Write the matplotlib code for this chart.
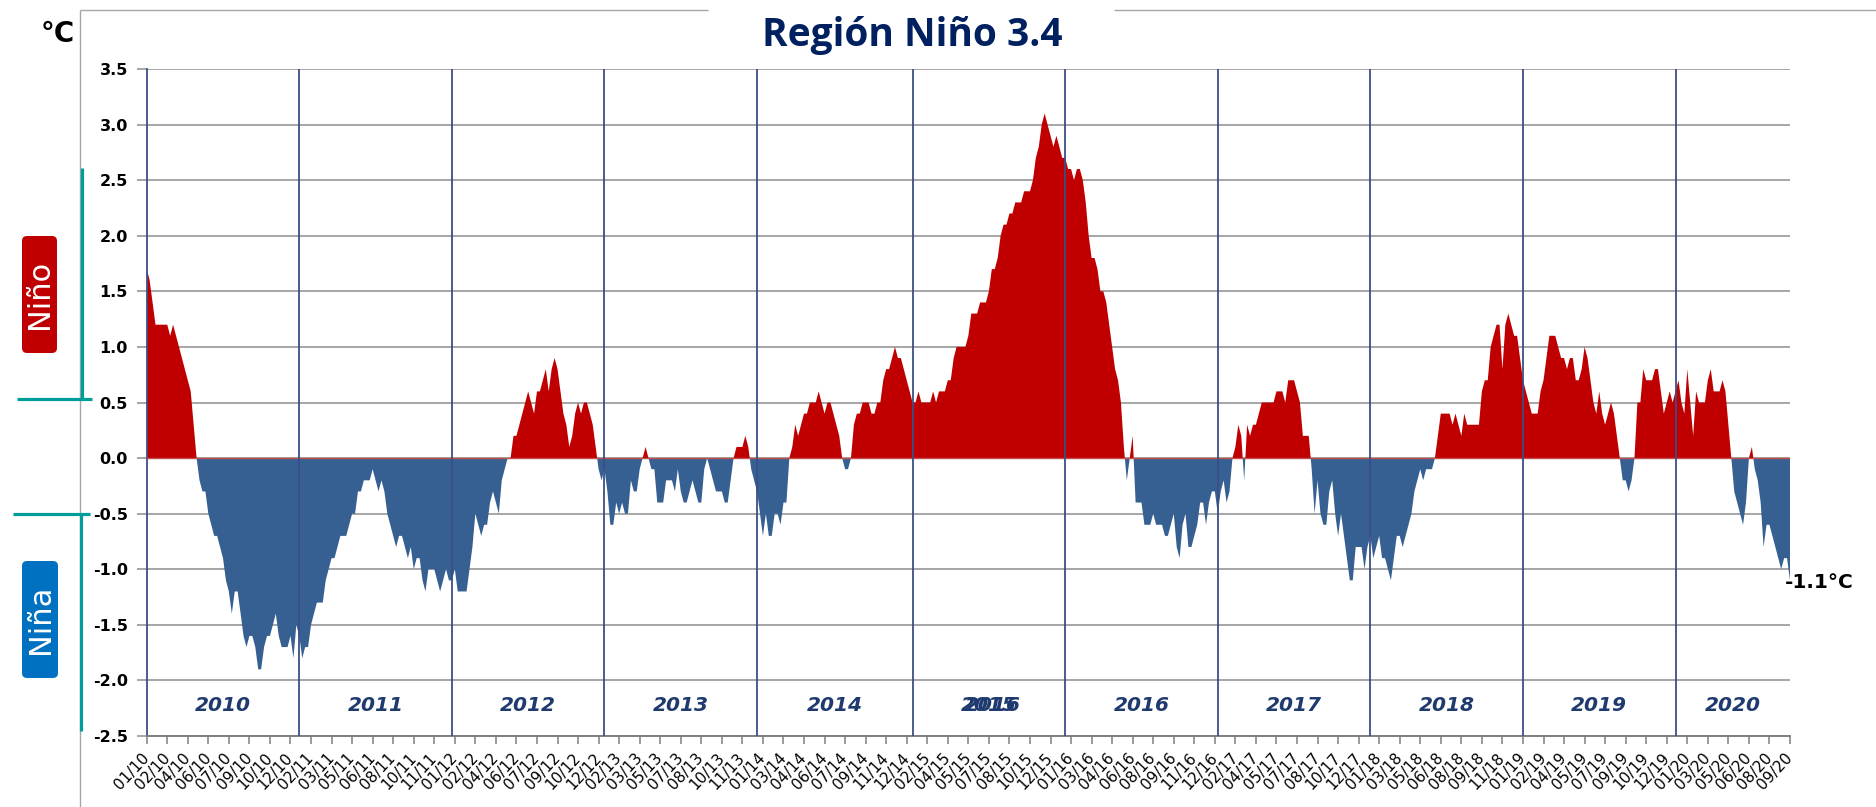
import numpy as np
import pandas as pd
import matplotlib
matplotlib.use("Agg")
import matplotlib.pyplot as plt
from matplotlib.patches import FancyBboxPatch
from matplotlib.lines import Line2D
from matplotlib.transforms import IdentityTransform

# ---------------- data: weekly Niño 3.4 anomalies (°C) ----------------
start_date = "2010-01-06"

anom_2010 = [1.7, 1.6, 1.4, 1.2, 1.2, 1.2, 1.2, 1.2, 1.1, 1.2,
             1.1, 1.0, 0.9, 0.8, 0.7, 0.6, 0.3, 0.0, -0.2, -0.3,
             -0.3, -0.5, -0.6, -0.7, -0.7, -0.8, -0.9, -1.1, -1.2, -1.4,
             -1.2, -1.2, -1.4, -1.6, -1.7, -1.6, -1.6, -1.7, -1.9, -1.9,
             -1.7, -1.6, -1.6, -1.5, -1.4, -1.6, -1.7, -1.7, -1.7, -1.6,
             -1.8, -1.5]
anom_2011 = [-1.6, -1.8, -1.7, -1.7, -1.5, -1.4, -1.3, -1.3, -1.3, -1.1,
             -1.0, -0.9, -0.9, -0.8, -0.7, -0.7, -0.7, -0.6, -0.5, -0.5,
             -0.3, -0.3, -0.2, -0.2, -0.2, -0.1, -0.2, -0.3, -0.2, -0.3,
             -0.5, -0.6, -0.7, -0.8, -0.7, -0.7, -0.8, -0.9, -0.8, -1.0,
             -0.9, -0.9, -1.1, -1.2, -1.0, -1.0, -1.0, -1.1, -1.2, -1.1,
             -1.0, -1.1]
anom_2012 = [-1.1, -1.0, -1.2, -1.2, -1.2, -1.2, -1.0, -0.8, -0.5, -0.6,
             -0.7, -0.6, -0.6, -0.4, -0.3, -0.4, -0.5, -0.2, -0.1, 0.0,
             0.0, 0.2, 0.2, 0.3, 0.4, 0.5, 0.6, 0.5, 0.4, 0.6,
             0.6, 0.7, 0.8, 0.6, 0.8, 0.9, 0.8, 0.6, 0.4, 0.3,
             0.1, 0.2, 0.4, 0.5, 0.4, 0.5, 0.5, 0.4, 0.3, 0.1,
             -0.1, -0.2]
anom_2013 = [-0.1, -0.3, -0.6, -0.6, -0.4, -0.5, -0.4, -0.5, -0.5, -0.2,
             -0.3, -0.3, -0.1, 0.0, 0.1, 0.0, -0.1, -0.1,
             -0.4, -0.4, -0.4, -0.2, -0.2, -0.2, -0.3, -0.1, -0.3, -0.4,
             -0.4, -0.3, -0.2, -0.3, -0.4, -0.4, -0.1, 0.0,
             -0.1, -0.2, -0.3, -0.3, -0.3, -0.4, -0.4, -0.2, 0.0, 0.1,
             0.1, 0.1, 0.2, 0.1, -0.1, -0.2]
anom_2014 = [-0.3, -0.5, -0.7, -0.5, -0.7, -0.7, -0.5, -0.5, -0.6, -0.4,
             -0.4, 0.0, 0.1, 0.3, 0.2, 0.3, 0.4, 0.4, 0.5, 0.5,
             0.5, 0.6, 0.5, 0.4, 0.5, 0.5, 0.4, 0.3, 0.2, 0.0,
             -0.1, -0.1, 0.0, 0.3, 0.4, 0.4, 0.5, 0.5, 0.5, 0.4,
             0.4, 0.5, 0.5, 0.7, 0.8, 0.8, 0.9, 1.0, 0.9, 0.9,
             0.8, 0.7, 0.6]
anom_2015 = [0.5, 0.5, 0.6, 0.5, 0.5, 0.5, 0.5, 0.6, 0.5, 0.6,
             0.6, 0.6, 0.7, 0.7, 0.9, 1.0, 1.0, 1.0, 1.0, 1.1,
             1.3, 1.3, 1.3, 1.4, 1.4, 1.4, 1.5, 1.7, 1.7, 1.8,
             2.0, 2.1, 2.1, 2.2, 2.2, 2.3, 2.3, 2.3, 2.4, 2.4,
             2.4, 2.5, 2.7, 2.8, 3.0, 3.1, 3.0, 2.9, 2.8, 2.9,
             2.8, 2.7]
anom_2016 = [2.7, 2.6, 2.6, 2.5, 2.6, 2.6, 2.5, 2.3, 2.0, 1.8,
             1.8, 1.7, 1.5, 1.5, 1.4, 1.2, 1.0, 0.8, 0.7, 0.5,
             0.1, -0.2, 0.0, 0.2, -0.4, -0.4, -0.4, -0.6, -0.6, -0.6,
             -0.5, -0.6, -0.6, -0.6, -0.7, -0.7, -0.6, -0.5, -0.8, -0.9,
             -0.6, -0.5, -0.8, -0.8, -0.7, -0.6, -0.4, -0.4, -0.6, -0.4,
             -0.3, -0.3]
anom_2017 = [-0.5, -0.3, -0.2, -0.4, -0.3, 0.0, 0.1, 0.3, 0.2, -0.2,
             0.3, 0.2, 0.3, 0.3, 0.4, 0.5, 0.5, 0.5, 0.5, 0.5,
             0.6, 0.6, 0.6, 0.5, 0.7, 0.7, 0.7, 0.6, 0.5, 0.2,
             0.2, 0.2, -0.1, -0.5, -0.2, -0.5, -0.6, -0.6, -0.3, -0.2,
             -0.5, -0.7, -0.5, -0.7, -0.9, -1.1, -1.1, -0.8, -0.8, -0.8,
             -1.0, -0.8]
anom_2018 = [-0.7, -0.9, -0.8, -0.7, -0.9, -0.9, -1.0, -1.1, -0.9, -0.7,
             -0.7, -0.8, -0.7, -0.6, -0.5, -0.3, -0.2, -0.1, -0.2, -0.1,
             -0.1, -0.1, 0.0, 0.2, 0.4, 0.4, 0.4, 0.4, 0.3, 0.4,
             0.3, 0.2, 0.4, 0.3, 0.3, 0.3, 0.3, 0.3, 0.6, 0.7,
             0.7, 1.0, 1.1, 1.2, 1.2, 0.8, 1.2, 1.3, 1.2, 1.1,
             1.1, 0.9]
anom_2019 = [0.7, 0.6, 0.5, 0.4, 0.4, 0.4, 0.6, 0.7, 0.9, 1.1,
             1.1, 1.1, 1.0, 0.9, 0.9, 0.8, 0.9, 0.9, 0.7, 0.7,
             0.8, 1.0, 0.9, 0.7, 0.5, 0.4, 0.6, 0.4, 0.3, 0.4,
             0.5, 0.4, 0.2, 0.0, -0.2, -0.2, -0.3, -0.2, 0.0, 0.5,
             0.5, 0.8, 0.7, 0.7, 0.7, 0.8, 0.8, 0.6, 0.4, 0.5,
             0.6, 0.5]
anom_2020 = [0.6, 0.7, 0.5, 0.4, 0.8, 0.5, 0.2, 0.6, 0.5, 0.5,
             0.5, 0.7, 0.8, 0.6, 0.6, 0.6, 0.7, 0.6, 0.3, 0.0,
             -0.3, -0.4, -0.5, -0.6, -0.4, 0.0, 0.1, -0.1, -0.2, -0.4,
             -0.8, -0.6, -0.6, -0.7, -0.8, -0.9, -1.0, -0.9, -0.9, -1.1]

years = [2010, 2011, 2012, 2013, 2014, 2015, 2016, 2017, 2018, 2019, 2020]
yticks = [-2.5, -2.0, -1.5, -1.0, -0.5, 0.0, 0.5, 1.0, 1.5, 2.0, 2.5, 3.0, 3.5]
title = "Región Niño 3.4"
last_label = "-1.1°C"

values = np.array(anom_2010 + anom_2011 + anom_2012 + anom_2013 + anom_2014 +
                  anom_2015 + anom_2016 + anom_2017 + anom_2018 + anom_2019 +
                  anom_2020)
n = len(values)
x = np.arange(n)
dates = pd.date_range(start_date, periods=n, freq="7D")
tick_idx = np.arange(0, n, 7)
tick_labels = [dates[i].strftime("%m/%y") for i in tick_idx]

# ---------------- figure ----------------
W, H = 1876, 807
fig = plt.figure(figsize=(W / 100, H / 100), dpi=100)
fig.patch.set_facecolor("white")
L, R, T, B = 146.7, 1790, 69, 736
ax = fig.add_axes([L / W, 1 - B / H, (R - L) / W, (B - T) / H])

RED = "#C00000"
BLUE = "#376092"
NAVY = "#1F3A6E"
GRID = "#8E8E8E"
YEARLINE = "#3C4E86"

ax.fill_between(x, values, 0, where=values >= 0, interpolate=True,
                color=RED, lw=0, zorder=2)
ax.fill_between(x, values, 0, where=values <= 0, interpolate=True,
                color=BLUE, lw=0, zorder=2)
ax.axhline(0, color="#C0504D", lw=1.0, zorder=3)

ax.set_xlim(0, n - 1)
ax.set_ylim(-2.5, 3.5)
ax.set_yticks(yticks)
ax.set_yticklabels([f"{v:.1f}" for v in yticks], fontsize=11.5,
                   fontweight="bold")
ax.yaxis.grid(True, color=GRID, lw=1.1, zorder=0)
ax.set_axisbelow(True)
ax.tick_params(axis="y", length=7, width=1.1, color=GRID, pad=6.5)

ax.set_xticks(tick_idx)
ax.set_xticklabels(tick_labels, rotation=47, ha="right", va="center",
                   rotation_mode="anchor", fontsize=11)
ax.tick_params(axis="x", length=6, width=1.1, color="#7F7F7F", pad=8)

for s in ["top", "right"]:
    ax.spines[s].set_visible(False)
ax.spines["bottom"].set_color("#7F7F7F")
ax.spines["bottom"].set_linewidth(1.4)
ax.spines["left"].set_color(YEARLINE)
ax.spines["left"].set_linewidth(1.3)

# year separators and labels
year_pos = [int(np.argmax(dates.year == y)) for y in years]
for p in year_pos[1:]:
    ax.axvline(p, color=YEARLINE, lw=1.3, zorder=4)
bounds = year_pos + [n - 1]
for i, y in enumerate(years):
    cx = (bounds[i] + bounds[i + 1]) / 2
    ax.text(cx, -2.23, str(y), ha="center", va="center", fontsize=14.5,
            fontweight="bold", fontstyle="italic", color=NAVY, zorder=5)
    if y == 2015:
        ax.text(cx + 1.5, -2.23, "2016", ha="center", va="center",
                fontsize=14.5, fontweight="bold", fontstyle="italic",
                color=NAVY, zorder=5)

ax.annotate(last_label, xy=(x[-1], values[-1]), xytext=(-3.5, -1.5),
            textcoords="offset points", ha="left", va="center",
            fontsize=14.5, fontweight="bold", color="black",
            annotation_clip=False, zorder=6)

# ---------------- decorations in pixel space ----------------
ID = IdentityTransform()


def line_px(x0, y0, x1, y1, color, lw):
    fig.add_artist(Line2D([x0, x1], [H - y0, H - y1], transform=ID,
                          color=color, lw=lw, solid_capstyle="butt"))


FRAME = "#A6A6A6"
line_px(80, 10, 708, 10, FRAME, 1.0)
line_px(1114, 10, W, 10, FRAME, 1.0)
line_px(80, 10, 80, H, FRAME, 1.0)

fig.text(912 / W, 1 - 46 / H, title, ha="center", va="baseline",
         fontsize=28, fontweight="bold", family="Open Sans", color="#002060")
fig.text(58 / W, 1 - 42 / H, "°C", ha="center", va="baseline",
         fontsize=20, fontweight="bold", color="black")

TEAL = "#009E9A"
line_px(82, 168, 82, 399, TEAL, 2.3)
line_px(17, 399, 92, 399, TEAL, 2.3)
line_px(13, 514, 90, 514, TEAL, 2.3)
line_px(81, 514, 81, 731, TEAL, 2.3)


def label_box(x0, y0, x1, y1, color, text):
    box = FancyBboxPatch((x0, H - y1), x1 - x0, y1 - y0,
                         boxstyle="round,pad=0,rounding_size=5",
                         transform=ID, facecolor=color, edgecolor="none")
    fig.add_artist(box)
    fig.text((x0 + x1) / 2 / W, 1 - (y0 + y1) / 2 / H, text, rotation=90,
             ha="center", va="center", fontsize=22, color="white")


label_box(22, 236, 57, 353, "#C00000", "Niño")
label_box(22, 561, 58, 678, "#0070C0", "Niña")

fig.savefig("out.png", dpi=100, facecolor="white")
